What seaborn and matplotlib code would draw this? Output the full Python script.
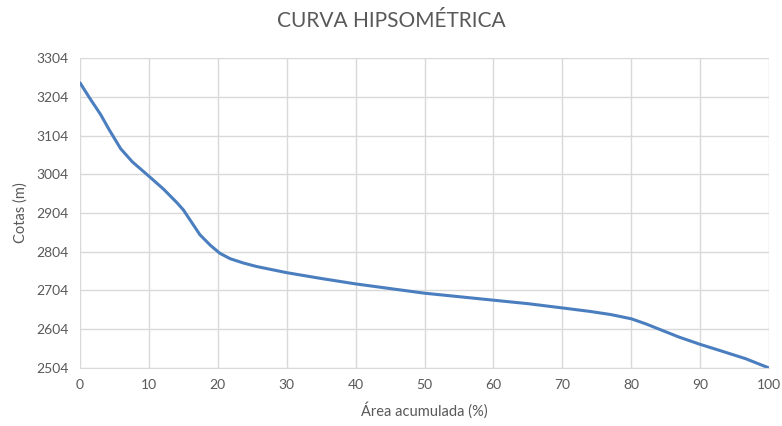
import pandas as pd
import seaborn as sns
import matplotlib.pyplot as plt

# Hypsometric curve
area_pct = [0, 1.5, 3.0, 4.2, 5.9, 7.6, 10, 12.1, 14.1, 15.0, 16.2, 17.4, 18.9, 20.3,
            21.8, 23.7, 25.6, 30, 35, 40, 45, 50, 55, 60, 65, 70, 74, 77, 80,
            82.1, 84.5, 86.9, 90, 92.7, 96.6, 100]
cotas = [3240, 3198, 3158, 3120, 3070, 3036, 2999, 2966, 2930, 2912, 2880, 2848, 2821, 2800,
         2786, 2775, 2766, 2750, 2735, 2721, 2709, 2697, 2688, 2679, 2670, 2659, 2650, 2642, 2631,
         2618, 2601, 2584, 2565, 2550, 2528, 2504]
y_ticks = [2504, 2604, 2704, 2804, 2904, 3004, 3104, 3204, 3304]
x_ticks = [0, 10, 20, 30, 40, 50, 60, 70, 80, 90, 100]

df = pd.DataFrame({"area": area_pct, "cota": cotas})

sns.set_style("white")
plt.rcParams['font.family'] = ['Lato', 'DejaVu Sans']

fig = plt.figure(figsize=(7.82, 4.26), dpi=100)
ax = fig.add_axes([0.1023, 0.1362, 0.8811, 0.7276])

sns.lineplot(data=df, x="area", y="cota", ax=ax, color="#4A7EBF", linewidth=2.2)
ax.lines[0].set_solid_joinstyle("round")

txt = "#595959"
ax.set_xlim(0, 100)
ax.set_ylim(2504, 3304)
ax.set_xticks(x_ticks)
ax.set_yticks(y_ticks)
ax.grid(True, color="#D9D9D9", linewidth=1)
ax.set_axisbelow(True)
for s in ["top", "right", "left"]:
    ax.spines[s].set_visible(False)
ax.spines["bottom"].set_color("#D9D9D9")
ax.tick_params(length=0, labelsize=10, colors=txt, pad=8)

ax.set_xlabel("Área acumulada (%)", fontsize=10.5, color=txt, labelpad=8)
ax.set_ylabel("Cotas (m)", fontsize=10.5, color=txt, labelpad=6)
fig.suptitle("CURVA HIPSOMÉTRICA", fontsize=15, color=txt, y=0.975)

fig.savefig("out.png", dpi=100)
